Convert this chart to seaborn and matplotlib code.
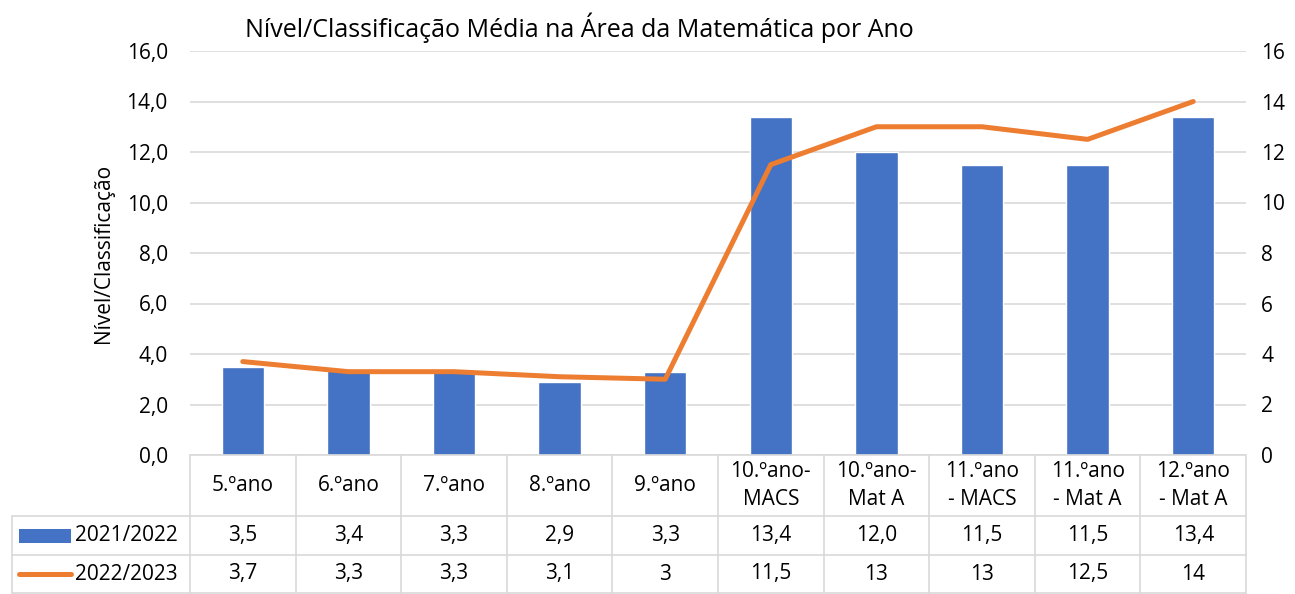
import matplotlib
matplotlib.use("Agg")
import matplotlib.pyplot as plt
import matplotlib.transforms as mtransforms
from matplotlib.lines import Line2D
from matplotlib.patches import Rectangle
import numpy as np
import pandas as pd
import seaborn as sns

# data
categories = ["5.ºano", "6.ºano", "7.ºano", "8.ºano", "9.ºano",
              "10.ºano-\nMACS", "10.ºano-\nMat A", "11.ºano\n- MACS",
              "11.ºano\n- Mat A", "12.ºano\n- Mat A"]
serie_2122 = [3.5, 3.4, 3.3, 2.9, 3.3, 13.4, 12.0, 11.5, 11.5, 13.4]
serie_2223 = [3.7, 3.3, 3.3, 3.1, 3.0, 11.5, 13.0, 13.0, 12.5, 14.0]
labels_2122 = ["3,5", "3,4", "3,3", "2,9", "3,3", "13,4", "12,0", "11,5", "11,5", "13,4"]
labels_2223 = ["3,7", "3,3", "3,3", "3,1", "3", "11,5", "13", "13", "12,5", "14"]
series_names = ["2021/2022", "2022/2023"]

BLUE = "#4472C4"
ORANGE = "#ED7D31"
GRID = "#D9D9D9"
TXT = "#000000"
FS = 15

sns.set_theme(style="white")
plt.rcParams["font.family"] = ["Open Sans", "DejaVu Sans"]

fig = plt.figure(figsize=(12.95, 5.94), dpi=100)
ax = fig.add_axes([190 / 1295, 139 / 594, 1056 / 1295, 404 / 594])

df = pd.DataFrame({"cat": categories, "val": serie_2122})
sns.barplot(data=df, x="cat", y="val", color=BLUE, saturation=1, width=0.4, ax=ax)

ax.set_ylim(0, 16)
ax.set_xlim(-0.5, len(categories) - 0.5)
ax.set_yticks(np.arange(0, 17, 2))
ax.set_yticklabels([f"{v:.1f}".replace(".", ",") for v in np.arange(0, 17, 2)], fontsize=FS)
ax.yaxis.grid(True, color=GRID, linewidth=1.2)
ax.set_axisbelow(True)
for s in ax.spines.values():
    s.set_visible(False)
ax.tick_params(axis="y", length=0, pad=16, colors=TXT)
ax.set_xticks([])
ax.set_xlabel("")
ax.set_ylabel("")

ax2 = ax.twinx()
sns.lineplot(x=np.arange(len(categories)), y=serie_2223, color=ORANGE, linewidth=3.6,
             ax=ax2, solid_capstyle="round")
ax2.set_ylim(0, 16)
ax2.set_yticks(np.arange(0, 17, 2))
ax2.set_yticklabels([str(v) for v in np.arange(0, 17, 2)], fontsize=FS)
ax2.tick_params(axis="y", length=0, pad=11, colors=TXT)
for s in ax2.spines.values():
    s.set_visible(False)
ax2.set_xlim(-0.5, len(categories) - 0.5)

fig.text(245 / 1295, 1 - 28 / 594, "Nível/Classificação Média na Área da Matemática por Ano",
         fontsize=18, ha="left", va="center", color=TXT)
fig.text(103 / 1295, 1 - 253 / 594, "Nível/Classificação", rotation=90,
         fontsize=FS, ha="center", va="center", color=TXT)

# data table below the plot
tr = mtransforms.blended_transform_factory(ax.transData, ax.transAxes)
h_ax = 404.0
y0 = 0.0
y1 = -61 / h_ax
y2 = -100 / h_ax
y3 = -138 / h_ax
x_left = -0.5 - (190 - 12) / 105.6
x_right = len(categories) - 0.5
lw = 1.2

def hline(xa, xb, y):
    ax.add_line(Line2D([xa, xb], [y, y], transform=tr, color=GRID, lw=lw, clip_on=False))

def vline(x, ya, yb):
    ax.add_line(Line2D([x, x], [ya, yb], transform=tr, color=GRID, lw=lw, clip_on=False))

hline(-0.5, x_right, y0)
hline(x_left, x_right, y1)
hline(x_left, x_right, y2)
hline(x_left, x_right, y3)
for i in range(len(categories) + 1):
    vline(i - 0.5, y0, y3)
vline(x_left, y1, y3)

for i, cat in enumerate(categories):
    ax.text(i, (y0 + y1) / 2, cat, transform=tr, ha="center", va="center",
            fontsize=FS, linespacing=1.4, color=TXT)
    ax.text(i, (y1 + y2) / 2, labels_2122[i], transform=tr, ha="center", va="center",
            fontsize=FS, color=TXT)
    ax.text(i, (y2 + y3) / 2, labels_2223[i], transform=tr, ha="center", va="center",
            fontsize=FS, color=TXT)

# legend keys in the row labels
kx0 = x_left + (19 - 12) / 105.6
kx1 = x_left + (71 - 12) / 105.6
ym1 = (y1 + y2) / 2
ym2 = (y2 + y3) / 2
ax.add_patch(Rectangle((kx0, ym1 - 7 / h_ax), kx1 - kx0, 14 / h_ax, transform=tr,
                       facecolor=BLUE, edgecolor="none", clip_on=False))
ax.add_line(Line2D([kx0, kx1], [ym2, ym2], transform=tr, color=ORANGE, lw=3.6,
                   solid_capstyle="round", clip_on=False))
tx = x_left + (75 - 12) / 105.6
ax.text(tx, ym1, series_names[0], transform=tr, ha="left", va="center", fontsize=FS, color=TXT)
ax.text(tx, ym2, series_names[1], transform=tr, ha="left", va="center", fontsize=FS, color=TXT)

fig.savefig("out.png", dpi=100)
